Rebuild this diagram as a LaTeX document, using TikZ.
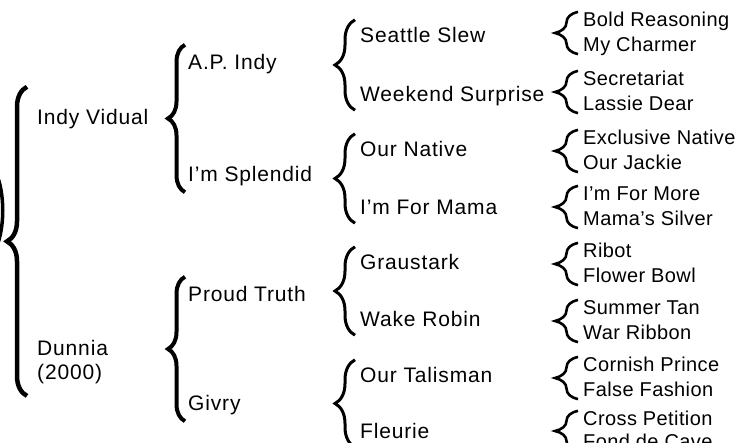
\documentclass[tikz,border=0pt]{standalone}
\usepackage{fontspec}
\setmainfont{Liberation Sans}
\newfontfamily\widefont[LetterSpace=4]{Liberation Sans}
\newfontfamily\narrowfont[LetterSpace=2]{Liberation Sans}
\usetikzlibrary{decorations.pathreplacing}
\begin{document}
\begin{tikzpicture}[
	x = 1pt, y = 1pt, % one unit is one pixel
	sire/.style = {inner sep = 0pt, font = \widefont\fontsize{21}{24}\selectfont},
	horse/.style = {sire, anchor = base west, text height = 15pt, text depth = 4pt},
	ancestor/.style = {horse, font = \narrowfont\fontsize{20}{24}\selectfont, text height = 14pt},
	bracket/.style = {decorate, decoration = {brace, amplitude = #1}}
	]
	
	\useasboundingbox (0,0) rectangle (743,443);
	\clip (0,0) rectangle (743,443);
	
	% generation 1
	\node[horse] (indy) at (37,318) {Indy Vidual};
	\node[sire, anchor = north west, align = left] (dunnia) at (37,103) {Dunnia\\(2000)};
	
	% generation 2
	\node[horse] (apindy) at (188,373) {A.P. Indy};
	\node[horse] (splendid) at (188,261) {I’m Splendid};
	\node[horse] (proud) at (188,141) {Proud Truth};
	\node[horse] (givry) at (188,32) {Givry};
	
	% generation 3
	\node[horse] (seattle) at (360,400) {Seattle Slew};
	\node[horse] (weekend) at (360,341) {Weekend Surprise};
	\node[horse] (native) at (360,286) {Our Native};
	\node[horse] (formama) at (360,228) {I’m For Mama};
	\node[horse] (graustark) at (360,173) {Graustark};
	\node[horse] (robin) at (360,116) {Wake Robin};
	\node[horse] (talisman) at (360,60) {Our Talisman};
	\node[horse] (fleurie) at (360,4) {Fleurie};
	
	% generation 4
	\node[ancestor] (boldr) at (583,416) {Bold Reasoning};
	\node[ancestor] (charmer) at (583,391) {My Charmer};
	\node[ancestor] (secretariat) at (583,357) {Secretariat};
	\node[ancestor] (lassie) at (583,332) {Lassie Dear};
	\node[ancestor] (exclusive) at (583,298) {Exclusive Native};
	\node[ancestor] (jackie) at (583,273) {Our Jackie};
	\node[ancestor] (formore) at (583,242) {I’m For More};
	\node[ancestor] (silver) at (583,217) {Mama’s Silver};
	\node[ancestor] (ribot) at (583,185) {Ribot};
	\node[ancestor] (flower) at (583,160) {Flower Bowl};
	\node[ancestor] (summer) at (583,128) {Summer Tan};
	\node[ancestor] (warribbon) at (583,103) {War Ribbon};
	\node[ancestor] (cornish) at (583,71) {Cornish Prince};
	\node[ancestor] (falsef) at (583,46) {False Fashion};
	\node[ancestor] (cross) at (583,17) {Cross Petition};
	\node[ancestor] (fond) at (583,-6) {Fond de Cave};
	
	% braces
	\draw[line width = 3.5pt] (-4,270) .. controls (5,250) and (5,215) .. (-4,195);
	\draw[bracket = 20pt, line width = 4.5pt] ([shift={(-10,-12)}]dunnia.south west) -- ([shift={(-10,23)}]indy.north west);
	\foreach \lo/\hi in {splendid/apindy, givry/proud}
		\draw[bracket = 17pt, line width = 4pt] ([shift={(-3,-6)}]\lo.south west) -- ([shift={(-3,10)}]\hi.north west);
	\foreach \lo/\hi in {weekend/seattle, formama/native, robin/graustark, fleurie/talisman}
		\draw[bracket = 20pt, line width = 3pt] ([shift={(-5,-4)}]\lo.south west) -- ([shift={(-5,8)}]\hi.north west);
	\foreach \lo/\hi in {charmer/boldr, lassie/secretariat, jackie/exclusive, silver/formore, flower/ribot, warribbon/summer, falsef/cornish, fond/cross}
		\draw[bracket = 23pt, line width = 2.6pt] ([shift={(-5,2)}]\lo.south west) -- ([shift={(-5,1)}]\hi.north west);
	
\end{tikzpicture}
\end{document}
